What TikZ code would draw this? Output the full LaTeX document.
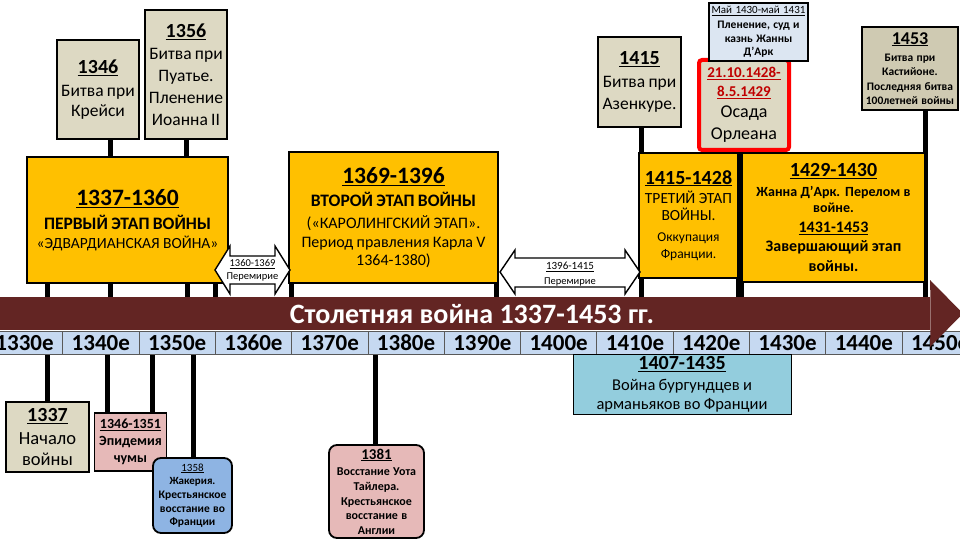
\documentclass[tikz,border=0pt]{standalone}
\usepackage{fontspec}
\setmainfont{Carlito}
\usetikzlibrary{backgrounds}
\setlength\parindent{0pt}
\definecolor{warc}{HTML}{632523}
\definecolor{stagec}{HTML}{FFC000}
\definecolor{beigec}{HTML}{DDD9C3}
\definecolor{khakic}{HTML}{CFCAB2}
\definecolor{paleblue}{HTML}{DCE6F2}
\definecolor{pinkc}{HTML}{E6B9B8}
\definecolor{bluejq}{HTML}{8EB4E3}
\definecolor{tealc}{HTML}{93CDDD}
\definecolor{decc}{HTML}{C6D9F1}
\definecolor{redtxt}{HTML}{C00000}
\definecolor{redbrd}{HTML}{FF0000}
\newcommand\fsz[2]{\fontsize{#1}{#2}\selectfont}
\begin{document}
\begin{tikzpicture}[x=1pt,y=-1pt,
  box/.style={draw=black, line width=2.2pt, align=center, inner sep=1pt},
  stagebox/.style={box, fill=stagec, line width=2.8pt},
  infobox/.style={box, fill=beigec},
  roundbox/.style={box, line width=1.8pt, rounded corners=8pt},
  stembar/.style={line width=5pt, draw=black},
  truce/.style={draw=black, line width=1.4pt, fill=white, line join=miter},
  dec/.style={draw=black!65, line width=0.8pt, fill=decc, inner sep=0pt,
    minimum width=76.3pt, minimum height=23pt, font=\fsz{23}{24}\bfseries}]
\useasboundingbox (0,0) rectangle (960,540);
\begin{scope}[on background layer]
  \fill[white] (0,0) rectangle (960,540);
\end{scope}

% ---- decade strip
\foreach \k in {0,...,12}{
  \pgfmathtruncatemacro\yr{1330+10*\k}
  \node[dec, anchor=north west] (d\yr) at ({-14+76.3*\k},331) {\yr{}е};
}

% ---- main arrow
\node[fill=warc, inner sep=0pt, minimum width=930pt, minimum height=33pt, anchor=north west] (warbar) at (0,297) {};
\fill[warc] (warbar.north east) -- (930,280) -- (963,313.5) -- (930,347) -- (warbar.south east) -- cycle;
\node[font=\fsz{28}{30}\bfseries, text=white, inner sep=0pt] (title) at (472,314) {Столетняя война 1337-1453 гг.};

% ---- upper boxes
\node[infobox, minimum width=82pt, minimum height=99pt, text width=80pt] (b1346) at (98,89.5)
 {\fsz{20}{21}\bfseries\underline{1346}\par\fsz{17.5}{23}\mdseries Битва при\par\fsz{17.5}{20}Крейси\par};
\node[infobox, minimum width=82pt, minimum height=129pt, text width=80pt] (b1356) at (186,74.5)
 {\fsz{20}{21}\bfseries\underline{1356}\par\fsz{17.5}{22}\mdseries Битва при\par Пуатье.\par Пленение\par Иоанна II\par};
\node[infobox, minimum width=83pt, minimum height=90pt, text width=81pt] (b1415) at (639.5,82)
 {\fsz{20}{21}\bfseries\underline{1415}\par\fsz{17.5}{23}\mdseries Битва при\par\fsz{17.5}{22}Азенкуре.\par};
\node[box, fill=beigec, draw=redbrd, line width=4pt, rounded corners=3pt, minimum width=90pt, minimum height=90pt, text width=86pt] (orleans) at (744,105)
 {\fsz{15}{17}\bfseries\textcolor{redtxt}{\underline{21.10.1428-}}\par\fsz{15}{19}\textcolor{redtxt}{\underline{8.5.1429}}\par
  \fsz{18}{21}\mdseries Осада\par\fsz{18}{22}Орлеана\par};
\node[box, fill=paleblue, line width=1.6pt, minimum width=99pt, minimum height=58pt, text width=97pt] (joan) at (758.5,32)
 {\fsz{11}{12}\underline{Май 1430-май 1431}\par\fsz{11.5}{15}\bfseries Пленение, суд и\par\fsz{11.5}{13.5}казнь Жанны\par Д’Арк\par};
\node[box, fill=khakic, minimum width=96pt, minimum height=83pt, text width=94pt] (b1453) at (910,68.5)
 {\fsz{18}{19}\bfseries\underline{1453}\par\fsz{11.5}{17}Битва при\par\fsz{11.5}{14.5}Кастийоне.\par Последняя битва\par 100летней войны\par};

% ---- stage boxes
\node[stagebox, minimum width=201pt, minimum height=126pt, text width=199pt] (st1) at (127.5,220)
 {\fsz{23.5}{24}\bfseries\underline{1337-1360}\par\fsz{17.5}{24}ПЕРВЫЙ ЭТАП ВОЙНЫ\par\fsz{15.5}{19}\mdseries «ЭДВАРДИАНСКАЯ ВОЙНА»\par};
\node[stagebox, minimum width=209pt, minimum height=131pt, text width=207pt] (st2) at (393.5,217.5)
 {\fsz{23.5}{24}\bfseries\underline{1369-1396}\par\fsz{17.5}{23}ВТОРОЙ ЭТАП ВОЙНЫ\par\fsz{16}{22}\mdseries («КАРОЛИНГСКИЙ ЭТАП».\par
  \fsz{16}{19}Период правления Карла V\par\fsz{16}{18.5}1364-1380)\par};
\node[stagebox, minimum width=97pt, minimum height=125pt, text width=97pt] (st3) at (688.5,215.5)
 {\fsz{20}{20}\bfseries\underline{1415-1428}\par\fsz{15.5}{19.5}\mdseries ТРЕТИЙ ЭТАП\par\fsz{15.5}{17}ВОЙНЫ.\par
  \fsz{13.5}{21}Оккупация\par\fsz{13.5}{17}Франции.\par};
\node[stagebox, minimum width=183pt, minimum height=129pt, text width=179pt] (st4) at (833.5,217.5)
 {\fsz{20}{22}\bfseries\underline{1429-1430}\par\fsz{14}{19.5}Жанна Д’Арк. Перелом в\par\fsz{14}{16}войне.\par
  \fsz{16}{20}\underline{1431-1453}\par\fsz{16}{19.5}Завершающий этап\par войны.\par};

% ---- truce arrows
\draw[truce] (215,270) -- (230,246) -- (230,256) -- (275,256) -- (275,246) -- (290,270)
  -- (275,294) -- (275,284) -- (230,284) -- (230,294) -- cycle;
\node[align=center, inner sep=0pt, text width=54pt] (truceA) at (252.5,270.5)
 {\fsz{10.5}{11}\underline{1360-1369}\par\fsz{10.5}{13.5}Перемирие\par};
\draw[truce] (500,272) -- (515,250) -- (515,258) -- (625,258) -- (625,250) -- (640,272)
  -- (625,294) -- (625,287) -- (515,287) -- (515,294) -- cycle;
\node[align=center, inner sep=0pt, text width=80pt] (truceB) at (570,274.5)
 {\fsz{11}{12}\underline{1396-1415}\par\fsz{10.5}{15}Перемирие\par};

% ---- lower boxes
\node[infobox, minimum width=83pt, minimum height=70pt, text width=81pt] (b1337) at (47.5,437)
 {\fsz{20}{20}\bfseries\underline{1337}\par\fsz{18.5}{23}\mdseries Начало\par\fsz{18.5}{21}войны\par};
\node[box, fill=pinkc, line width=1.8pt, minimum width=71pt, minimum height=58pt, text width=70pt] (b1346b) at (130.5,442)
 {\fsz{14}{14}\bfseries\underline{1346-1351}\par\fsz{14}{17}Эпидемия\par чумы\par};
\node[roundbox, fill=bluejq, minimum width=79pt, minimum height=75pt, text width=77pt] (b1358) at (192.5,495.5)
 {\fsz{11}{13}\underline{1358}\par\bfseries Жакерия.\par\fsz{11.5}{14.5}Крестьянское\par\fsz{11.5}{13.5}восстание во\par Франции\par};
\node[roundbox, fill=pinkc, minimum width=95pt, minimum height=93pt, text width=93pt] (b1381) at (376.5,491.5)
 {\fsz{15}{17}\bfseries\underline{1381}\par\fsz{12}{16}Восстание Уота\par\fsz{12}{15}Тайлера.\par Крестьянское\par\fsz{12}{14.5}восстание в\par Англии\par};
\node[box, fill=tealc, line width=1pt, minimum width=218pt, minimum height=60pt, text width=216pt] (b1407) at (682,384)
 {\fsz{20}{20}\bfseries\underline{1407-1435}\par\fsz{16.5}{21}\mdseries Война бургундцев и\par\fsz{16.5}{19}арманьяков во Франции\par};

% ---- connectors (stems), behind everything
\begin{scope}[on background layer]
  \draw[stembar] (b1346.south -| 110,0) -- (st1.north -| 110,0);
  \draw[stembar] (b1356.south -| 186,0) -- (st1.north -| 186,0);
  \draw[stembar] (st1.south -| 47,0) -- (warbar.north -| 47,0);
  \draw[stembar] (st1.south -| 110,0) -- (warbar.north -| 110,0);
  \draw[stembar] (st1.south -| 187,0) -- (warbar.north -| 187,0);
  \draw[stembar] (st1.south -| 215,0) -- (warbar.north -| 215,0);
  \draw[stembar] (st2.south -| 291,0) -- (warbar.north -| 291,0);
  \draw[stembar] (st2.south -| 496,0) -- (warbar.north -| 496,0);
  \draw[stembar] (b1415.south -| 641,0) -- (warbar.north -| 641,0);
  \draw[stembar, line width=8pt] (orleans.south -| 740,0) -- (warbar.north -| 740,0);
  \draw[stembar] (b1453.south -| 925,0) -- (warbar.north -| 925,0);
  \draw[stembar] (d1330.south -| 47,0) -- (b1337.north -| 47,0);
  \draw[stembar] (d1340.south -| 107,0) -- (b1346b.north -| 107,0);
  \draw[stembar] (d1350.south -| 152,0) -- (b1346b.north -| 152,0);
  \draw[stembar] (d1350.south -| 193,0) -- (b1358.north -| 193,0);
  \draw[stembar] (d1380.south -| 375,0) -- (b1381.north -| 375,0);
\end{scope}
\end{tikzpicture}
\end{document}
